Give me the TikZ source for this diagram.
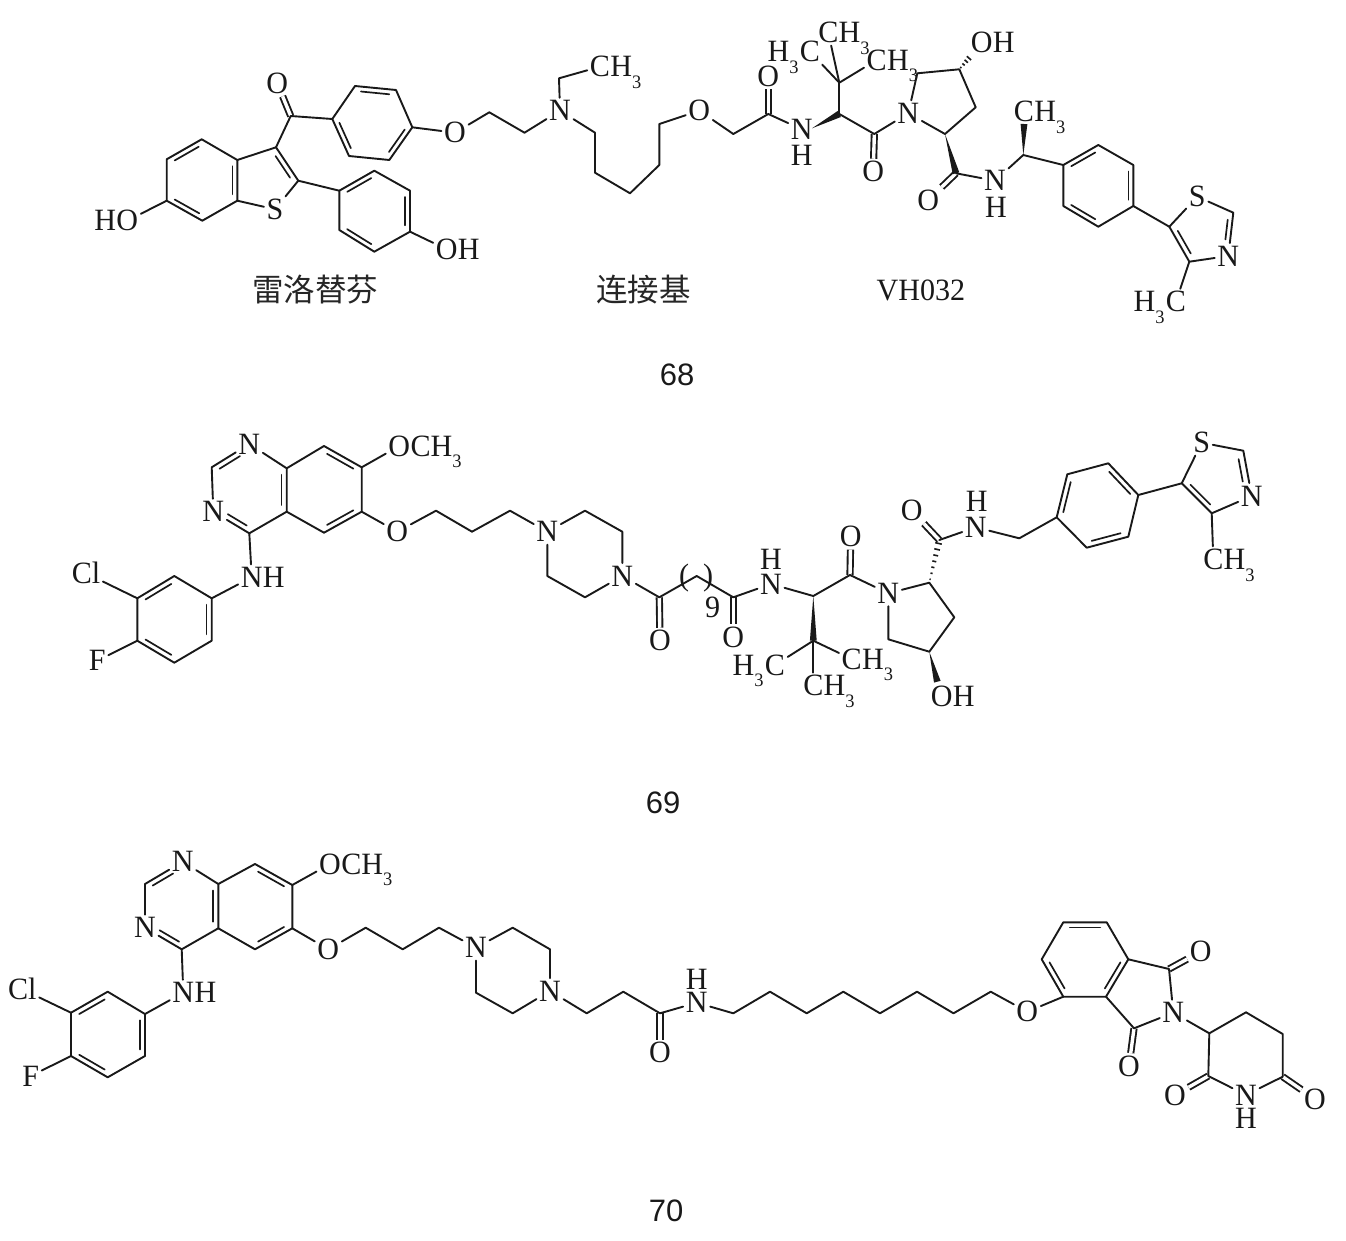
\documentclass[tikz,border=0pt]{standalone}
\usepackage{fontspec}
\setmainfont[FakeStretch=0.97]{Liberation Serif}
\newfontfamily\cjkf{Noto Sans CJK SC}
\newfontfamily\labf{Liberation Sans}
\usetikzlibrary{calc}
\tikzset{
  bond/.style={line width=1.9pt,line cap=round,line join=round,black!90},
  dbond/.style={line width=1.9pt,line cap=butt,double=white,double distance=3.4pt,black!90},
  inbond/.style={line width=1.7pt,line cap=round,black!90},
  atom/.style={font=\fontsize{31}{31}\selectfont,inner sep=2.5pt,text height=20.5pt,text depth=0pt,black!90},
  hatom/.style={font=\fontsize{31}{31}\selectfont,inner sep=0pt,text height=20.5pt,text depth=0pt,black!90},
  tailr/.style={font=\fontsize{31}{31}\selectfont,inner sep=0pt,anchor=base west,black!90},
  taill/.style={font=\fontsize{31}{31}\selectfont,inner sep=0pt,anchor=base east,black!90},
  chem/.style={font=\fontsize{31}{31}\selectfont,inner sep=0pt,black!90},
  cnname/.style={font=\cjkf\fontsize{31.5}{31.5}\selectfont,inner sep=0pt,black!85},
  cpd/.style={font=\labf\fontsize{31}{31}\selectfont,inner sep=0pt,black!90},
}
\newcommand\subn{\raisebox{-11.5pt}{\fontsize{19}{19}\selectfont 3}}
\newcommand\Cc[3]{\coordinate (#1) at (#2,#3);}
\newcommand\Aa[4]{\node[atom] (#1) at (#2,#3) {#4};}
\newcommand\Hh[3]{\node[hatom] (#1) at (#2,#3) {H};}
\newcommand\TR[2]{\node[tailr] (#1r) at ([xshift=-2.5pt]#1.base east) {#2};}
\newcommand\TL[2]{\node[taill] (#1l) at ([xshift=2.5pt]#1.base west) {#2};}
\newcommand\inb[4]{\draw[inbond,shorten <=3.5pt,shorten >=3.5pt] ($(#4)!#1!(#2)$) -- ($(#4)!#1!(#3)$);}
\newcommand\inbx[6]{\draw[inbond,shorten <=#1,shorten >=#2] ($(#6)!#3!(#4)$) -- ($(#6)!#3!(#5)$);}
\newcommand\wdg[2]{\fill[black!90] (#1) -- ($(#2)!3.4pt!90:(#1)$) -- ($(#2)!3.4pt!-90:(#1)$) -- cycle;}
\newcommand\hsh[3]{\foreach \t in {#3}{\pgfmathsetmacro\w{0.4+3.2*\t}
  \coordinate (hp) at ($(#1)!\t!(#2)$);
  \draw[line width=1.6pt,black!90] ($(hp)!\w pt!90:(#2)$) -- ($(hp)!\w pt!-90:(#2)$);}}
\begin{document}
\begin{tikzpicture}[x=1pt,y=-1pt]
\useasboundingbox (0,0) rectangle (1346,1241);

%% ---------- 68 ----------
\Cc{aa1}{201.7}{139.3}\Cc{aa2}{166.7}{159.3}\Cc{aa3}{166.7}{200.7}\Cc{aa4}{202.3}{220.7}\Cc{aa5}{237.3}{200.7}\Cc{aa6}{237.3}{160}
\Cc{ac3}{276}{147.3}\Cc{ac2}{298.3}{180.7}\Aa{as}{275}{209.3}{S}
\Cc{aco}{290.7}{116}\Aa{ao1}{277.3}{83.3}{O}
\Cc{ab1}{332.3}{119}\Cc{ab2}{355}{86}\Cc{ab3}{396}{90}\Cc{ab4}{412.3}{127.3}\Cc{ab5}{389.3}{160}\Cc{ab6}{349}{156}
\Cc{ad1}{339.3}{190.7}\Cc{ad2}{374.3}{170.7}\Cc{ad3}{410}{190.7}\Cc{ad4}{410}{231.7}\Cc{ad5}{374.3}{251.7}\Cc{ad6}{339.3}{230}
\Aa{ao2}{446.7}{249.3}{O}\TR{ao2}{H}
\Aa{ao3}{127.3}{220.7}{O}\TL{ao3}{H}
\Cc{acena}{202}{180}\Cc{acenb}{372.5}{123}\Cc{acend}{374.5}{211}\Cc{acent}{263}{180}
\Aa{ao4}{455}{132.7}{O}\Cc{ach1}{489.3}{112.3}\Cc{ach2}{524.5}{132.7}
\Aa{an1}{560}{110.7}{N}\Cc{aet}{559}{78.3}\Aa{acm1}{600}{66.7}{C}\TR{acm1}{H\subn}
\Cc{al1}{595}{132.7}\Cc{al2}{595}{172.7}\Cc{al3}{630}{193.3}\Cc{al4}{659.3}{165}\Cc{al5}{659.3}{124}
\Aa{ao5}{699.3}{110.7}{O}\Cc{al6}{733.3}{134}\Cc{aam}{768.3}{114}\Aa{ao6}{768.3}{76}{O}
\Aa{an2}{801.7}{129.3}{N}\Hh{ah2}{801.7}{155.3}
\Cc{ach}{839.3}{114}\Cc{awn}{812}{128.3}\Cc{atb}{839.3}{82.7}
\Aa{acl}{810}{51.7}{C}\TL{acl}{H\subn\kern1pt}
\Aa{act}{828.3}{32.7}{C}\TR{act}{H\subn}
\Aa{acr}{876.7}{60}{C}\TR{acr}{H\subn}
\Cc{aco2}{874.3}{134}\Aa{ao7}{873.3}{171.7}{O}
\Aa{an3}{908.3}{113.3}{N}
\Cc{ap1}{917.3}{73.3}\Cc{ap2}{959.3}{69.3}\Cc{ap3}{975.7}{107.3}\Cc{ap4}{945}{134}
\Aa{ao8}{981.7}{42.3}{O}\TR{ao8}{H}\Cc{ahe}{971.7}{55}
\Cc{aco3}{956}{173.3}\Aa{ao9}{928.3}{200}{O}
\Aa{an4}{995}{180.7}{N}\Hh{ah4}{996}{207.3}
\Cc{acm}{1023.3}{155}\Cc{awm}{1024}{124}\Aa{acm2}{1024}{111.7}{C}\TR{acm2}{H\subn}
\Cc{af1}{1063.3}{165}\Cc{af2}{1098.3}{145}\Cc{af3}{1133.3}{165}\Cc{af4}{1133.3}{206}\Cc{af5}{1098.3}{226.7}\Cc{af6}{1063.3}{206}
\Cc{acenf}{1098.3}{186}
\Cc{at5}{1169.3}{226.7}\Aa{ats}{1197.3}{196.7}{S}\Cc{atc}{1233.3}{212.7}\Aa{atn}{1228.3}{256}{N}\Cc{at4}{1189.3}{261.7}
\Cc{acent2}{1207}{233}
\Aa{acm3}{1176}{301.7}{C}\TL{acm3}{H\subn\kern1pt}
% doubles first
\draw[dbond] (aco) -- (ao1); \draw[dbond] (aam) -- (ao6); \draw[dbond] (aco2) -- (ao7); \draw[dbond] (aco3) -- (ao9);
\draw[bond] (aa1)--(aa2)--(aa3)--(aa4)--(aa5)--(aa6)--cycle;
\draw[bond] (aa6)--(ac3)--(ac2)--(as)--(aa5);
\draw[bond] (ac3)--(aco)--(ab1);
\draw[bond] (ab1)--(ab2)--(ab3)--(ab4)--(ab5)--(ab6)--cycle;
\draw[bond] (ac2)--(ad1);
\draw[bond] (ad1)--(ad2)--(ad3)--(ad4)--(ad5)--(ad6)--cycle;
\draw[bond] (ad4)--(ao2); \draw[bond] (aa3)--(ao3);
\draw[bond] (ab4)--(ao4); \draw[bond] (ao4)--(ach1)--(ach2)--(an1);
\draw[bond] (an1)--(aet)--(acm1);
\draw[bond] (an1)--(al1)--(al2)--(al3)--(al4)--(al5)--(ao5);
\draw[bond] (ao5)--(al6)--(aam)--(an2);
\draw[bond] (ach)--(atb); \draw[bond] (atb)--(acl); \draw[bond] (atb)--(act); \draw[bond] (atb)--(acr);
\draw[bond] (ach)--(aco2)--(an3); \draw[bond] (an3)--(ap1)--(ap2)--(ap3)--(ap4)--(an3);
\draw[bond] (aco3)--(an4); \draw[bond] (an4)--(acm)--(af1);
\draw[bond] (af1)--(af2)--(af3)--(af4)--(af5)--(af6)--cycle;
\draw[bond] (af4)--(at5)--(ats); \draw[bond] (ats)--(atc)--(atn); \draw[bond] (atn)--(at4)--(at5);
\draw[bond] (at4)--(acm3);
\wdg{awn}{ach}\wdg{ap4}{aco3}\wdg{acm}{awm}
\hsh{ap2}{ahe}{.12,.34,.56,.78,1}
\inb{.86}{aa1}{aa2}{acena}\inb{.86}{aa3}{aa4}{acena}\inb{.86}{aa5}{aa6}{acena}
\inb{.82}{ac3}{ac2}{acent}
\inb{.86}{ab2}{ab3}{acenb}\inb{.86}{ab4}{ab5}{acenb}\inb{.86}{ab6}{ab1}{acenb}
\inb{.86}{ad1}{ad2}{acend}\inb{.86}{ad3}{ad4}{acend}\inb{.86}{ad5}{ad6}{acend}
\inb{.86}{af1}{af2}{acenf}\inb{.86}{af3}{af4}{acenf}\inb{.86}{af5}{af6}{acenf}
\inb{.82}{at5}{at4}{acent2}\inbx{3pt}{12pt}{.8}{atc}{atn}{acent2}
\node[cnname] (aname1) at (315,290) {雷洛替芬};
\node[cnname] (aname2) at (643.3,290) {连接基};
\node[chem] (aname3) at (921,290) {VH032};
\node[cpd] (lab68) at (677,375) {68};

%% ---------- 69 ----------
\Aa{bn1}{249.3}{444}{N}\Cc{bch}{211.7}{467.3}\Aa{bn3}{213.3}{511.7}{N}\Cc{bc4}{249.3}{533.3}\Cc{bc4a}{286.7}{511.7}\Cc{bc8a}{286.7}{468.3}
\Cc{bc8}{324}{446}\Cc{bc7}{361.7}{467.3}\Cc{bc6}{361.7}{511.7}\Cc{bc5}{324}{532.7}
\Cc{bcenp}{249.5}{489}\Cc{bcenq}{324}{489.5}
\Aa{bo1}{399.3}{446}{O}\TR{bo1}{CH\subn}
\Aa{bo2}{397.3}{531.7}{O}\Cc{bl1}{436}{510.7}\Cc{bl2}{472}{531.7}\Cc{bl3}{510}{510.7}
\Aa{bnh}{251.7}{577.3}{N}\TR{bnh}{H}
\Cc{br1}{211.7}{598.3}\Cc{br2}{211.7}{640.7}\Cc{br3}{174.3}{662.7}\Cc{br4}{137.3}{640.7}\Cc{br5}{137.3}{598.3}\Cc{br6}{174.3}{576}
\Cc{bcenr}{174.5}{619.5}
\Aa{bcl}{86}{573.3}{Cl}\Aa{bf}{97.3}{660.7}{F}
\Aa{bn4}{547.3}{531.7}{N}\Cc{bz1}{585}{510.7}\Cc{bz2}{622.3}{531.7}\Aa{bn5}{622.3}{576}{N}\Cc{bz3}{585}{597.3}\Cc{bz4}{547.3}{576}
\Cc{bco1}{659.3}{597.3}\Aa{bo3}{660}{640.7}{O}\Cc{bm}{696.7}{576}\Cc{bco2}{733.3}{597.3}\Aa{bo4}{733.3}{637.3}{O}
\node[chem] (bpl) at (684,578) {(};\node[chem] (bpr) at (708,578) {)};\node[chem] (bnine) at (712.7,607.3) {9};
\Aa{bn6}{771}{584}{N}\Hh{bh6}{771}{559.3}
\Cc{bch2}{813.3}{596}\Cc{bco3}{850}{575}\Aa{bo5}{850.7}{536.7}{O}\Aa{bn7}{888.3}{593.3}{N}
\Cc{btb}{813.3}{640.7}
\Aa{bcl2}{775}{665}{C}\TL{bcl2}{H\subn\kern1pt}
\Aa{bcr}{851.7}{659}{C}\TR{bcr}{H\subn}
\Aa{bcb}{813.3}{685.7}{C}\TR{bcb}{H\subn}
\Cc{bp1}{929.3}{582.7}\Cc{bp2}{954.3}{617.3}\Cc{bp3}{929.3}{651.7}\Cc{bp4}{888.3}{639.3}
\Cc{bwo}{937.3}{681.7}\Aa{bo6}{941.7}{696}{O}\TR{bo6}{H}
\Cc{bco4}{939.3}{540}\Aa{bo7}{911.7}{510.7}{O}\Aa{bn8}{975.7}{527.3}{N}\Hh{bh8}{976.7}{501.7}
\Cc{bch3}{1019.3}{538.3}
\Cc{bv1}{1056.7}{517.3}\Cc{bv2}{1067.3}{474.3}\Cc{bv3}{1108.3}{463.3}\Cc{bv4}{1138.3}{495}\Cc{bv5}{1128.3}{536.7}\Cc{bv6}{1086.7}{547.7}
\Cc{bcenv}{1097.5}{505.5}
\Cc{bt5}{1181.7}{483.3}\Aa{bts}{1201.7}{442.7}{S}\Cc{btc}{1243.3}{450.7}\Aa{btn}{1251.7}{496}{N}\Cc{bt4}{1211.7}{513.3}
\Cc{bcent}{1217}{478}
\Aa{bcm}{1213.3}{559.3}{C}\TR{bcm}{H\subn}
\draw[dbond] (bco1) -- (bo3); \draw[dbond] (bco2) -- (bo4); \draw[dbond] (bco3) -- (bo5); \draw[dbond] (bco4) -- (bo7);
\draw[bond] (bn1)--(bch)--(bn3); \draw[bond] (bn3)--(bc4)--(bc4a)--(bc8a)--(bn1);
\draw[bond] (bc8a)--(bc8)--(bc7)--(bc6)--(bc5)--(bc4a);
\draw[bond] (bc7)--(bo1); \draw[bond] (bc6)--(bo2);
\draw[bond] (bo2)--(bl1)--(bl2)--(bl3)--(bn4);
\draw[bond] (bc4)--(bnh); \draw[bond] (bnh)--(br1);
\draw[bond] (br1)--(br2)--(br3)--(br4)--(br5)--(br6)--cycle;
\draw[bond] (br5)--(bcl); \draw[bond] (br4)--(bf);
\draw[bond] (bn4)--(bz1)--(bz2)--(bn5); \draw[bond] (bn5)--(bz3)--(bz4)--(bn4);
\draw[bond] (bn5)--(bco1)--(bm)--(bco2)--(bn6); \draw[bond] (bn6)--(bch2)--(bco3)--(bn7);
\draw[bond] (btb)--(bcl2); \draw[bond] (btb)--(bcr); \draw[bond] (btb)--(bcb);
\draw[bond] (bn7)--(bp1)--(bp2)--(bp3)--(bp4)--(bn7);
\draw[bond] (bco4)--(bn8); \draw[bond] (bn8)--(bch3)--(bv1);
\draw[bond] (bv1)--(bv2)--(bv3)--(bv4)--(bv5)--(bv6)--cycle;
\draw[bond] (bv4)--(bt5)--(bts); \draw[bond] (bts)--(btc)--(btn); \draw[bond] (btn)--(bt4)--(bt5);
\draw[bond] (bt4)--(bcm);
\wdg{bch2}{btb}\wdg{bp3}{bwo}
\hsh{bp1}{bco4}{.08,.22,.36,.5,.64,.78,.92}
\inbx{3pt}{11pt}{.86}{bch}{bn1}{bcenp}\inbx{11pt}{3pt}{.86}{bn3}{bc4}{bcenp}\inb{.86}{bc4a}{bc8a}{bcenp}
\inb{.86}{bc8}{bc7}{bcenq}\inb{.86}{bc6}{bc5}{bcenq}
\inb{.86}{br6}{br5}{bcenr}\inb{.86}{br4}{br3}{bcenr}\inb{.86}{br1}{br2}{bcenr}
\inb{.86}{bv1}{bv2}{bcenv}\inb{.86}{bv3}{bv4}{bcenv}\inb{.86}{bv5}{bv6}{bcenv}
\inb{.82}{bt5}{bt4}{bcent}\inbx{3pt}{11pt}{.8}{btc}{btn}{bcent}
\node[cpd] (lab69) at (663,803) {69};

%% ---------- 70 ----------
\Aa{cn1}{182.7}{861.7}{N}\Cc{cch}{145}{884}\Aa{cn3}{145}{927.7}{N}\Cc{cc4}{181.7}{949.3}\Cc{cc4a}{218.3}{928.3}\Cc{cc8a}{218.3}{884}
\Cc{cc8}{255}{864}\Cc{cc7}{292.3}{885}\Cc{cc6}{292.3}{928.3}\Cc{cc5}{255}{949.3}
\Cc{ccenp}{181.7}{906}\Cc{ccenq}{255}{906.5}
\Aa{co1}{330}{864}{O}\TR{co1}{CH\subn}
\Aa{co2}{328.3}{949.3}{O}\Cc{cl1}{365.7}{927.7}\Cc{cl2}{402.7}{949.3}\Cc{cl3}{439}{927.7}
\Aa{cnh}{183.3}{992.7}{N}\TR{cnh}{H}
\Cc{cr1}{145}{1014}\Cc{cr2}{145}{1056}\Cc{cr3}{107.7}{1077.3}\Cc{cr4}{71}{1056}\Cc{cr5}{71}{1012.7}\Cc{cr6}{107.7}{991.7}
\Cc{ccenr}{108}{1034.5}
\Aa{ccl}{22.3}{989.3}{Cl}\Aa{cf}{30.7}{1076}{F}
\Aa{cn4}{476}{947.7}{N}\Cc{cz1}{512.7}{927.7}\Cc{cz2}{550}{949.3}\Aa{cn5}{550}{991}{N}\Cc{cz3}{512.7}{1013.3}\Cc{cz4}{476}{992.7}
\Cc{cs1}{586.7}{1013.3}\Cc{cs2}{623.3}{991.7}\Cc{cco}{660}{1013.3}\Aa{co3}{660}{1052.7}{O}
\Aa{cn6}{696.7}{1002.7}{N}\Hh{ch6}{696.7}{979.3}
\Cc{cy1}{733.3}{1013.3}\Cc{cy2}{770}{991.7}\Cc{cy3}{806.7}{1013.3}\Cc{cy4}{843.3}{991.7}\Cc{cy5}{880}{1013.3}\Cc{cy6}{917}{991.7}\Cc{cy7}{953.5}{1013.3}\Cc{cy8}{990.7}{991.7}
\Aa{co4}{1027.3}{1011.7}{O}
\Cc{cp1}{1063.3}{996.7}\Cc{cp2}{1041.7}{959.3}\Cc{cp3}{1063.3}{922.3}\Cc{cp4}{1106.7}{922.3}\Cc{cp5}{1128.3}{959.3}\Cc{cp6}{1106}{996.7}
\Cc{ccenh}{1085}{959.5}
\Cc{cct}{1169}{969}\Aa{co5}{1200.7}{951.7}{O}\Aa{cn7}{1173.3}{1012.7}{N}\Cc{ccb}{1134}{1028.3}\Aa{co6}{1129}{1066}{O}
\Cc{cg1}{1209.3}{1033.3}\Cc{cg2}{1246}{1012.3}\Cc{cg3}{1282.7}{1034}\Cc{cg4}{1282.7}{1076.7}\Aa{cn8}{1246}{1095}{N}\Hh{ch8}{1246}{1118.3}\Cc{cg5}{1208.3}{1076}
\Aa{co7}{1175}{1095}{O}\Aa{co8}{1315}{1099}{O}
\draw[dbond] (cco) -- (co3); \draw[dbond] (cct) -- (co5); \draw[dbond] (ccb) -- (co6); \draw[dbond] (cg5) -- (co7); \draw[dbond] (cg4) -- (co8);
\draw[bond] (cn1)--(cch)--(cn3); \draw[bond] (cn3)--(cc4)--(cc4a)--(cc8a)--(cn1);
\draw[bond] (cc8a)--(cc8)--(cc7)--(cc6)--(cc5)--(cc4a);
\draw[bond] (cc7)--(co1); \draw[bond] (cc6)--(co2);
\draw[bond] (co2)--(cl1)--(cl2)--(cl3)--(cn4);
\draw[bond] (cc4)--(cnh); \draw[bond] (cnh)--(cr1);
\draw[bond] (cr1)--(cr2)--(cr3)--(cr4)--(cr5)--(cr6)--cycle;
\draw[bond] (cr5)--(ccl); \draw[bond] (cr4)--(cf);
\draw[bond] (cn4)--(cz1)--(cz2)--(cn5); \draw[bond] (cn5)--(cz3)--(cz4)--(cn4);
\draw[bond] (cn5)--(cs1)--(cs2)--(cco)--(cn6); \draw[bond] (cn6)--(cy1)--(cy2)--(cy3)--(cy4)--(cy5)--(cy6)--(cy7)--(cy8)--(co4);
\draw[bond] (co4)--(cp1);
\draw[bond] (cp1)--(cp2)--(cp3)--(cp4)--(cp5)--(cp6)--cycle;
\draw[bond] (cp5)--(cct)--(cn7); \draw[bond] (cn7)--(ccb)--(cp6);
\draw[bond] (cn7)--(cg1)--(cg2)--(cg3)--(cg4)--(cn8); \draw[bond] (cn8)--(cg5)--(cg1);
\inbx{3pt}{11pt}{.86}{cch}{cn1}{ccenp}\inbx{11pt}{3pt}{.86}{cn3}{cc4}{ccenp}\inb{.86}{cc4a}{cc8a}{ccenp}
\inb{.86}{cc8}{cc7}{ccenq}\inb{.86}{cc6}{cc5}{ccenq}
\inb{.86}{cr6}{cr5}{ccenr}\inb{.86}{cr4}{cr3}{ccenr}\inb{.86}{cr1}{cr2}{ccenr}
\inb{.86}{cp1}{cp2}{ccenh}\inb{.86}{cp3}{cp4}{ccenh}\inb{.86}{cp5}{cp6}{ccenh}
\node[cpd] (lab70) at (666,1211) {70};
\end{tikzpicture}
\end{document}
